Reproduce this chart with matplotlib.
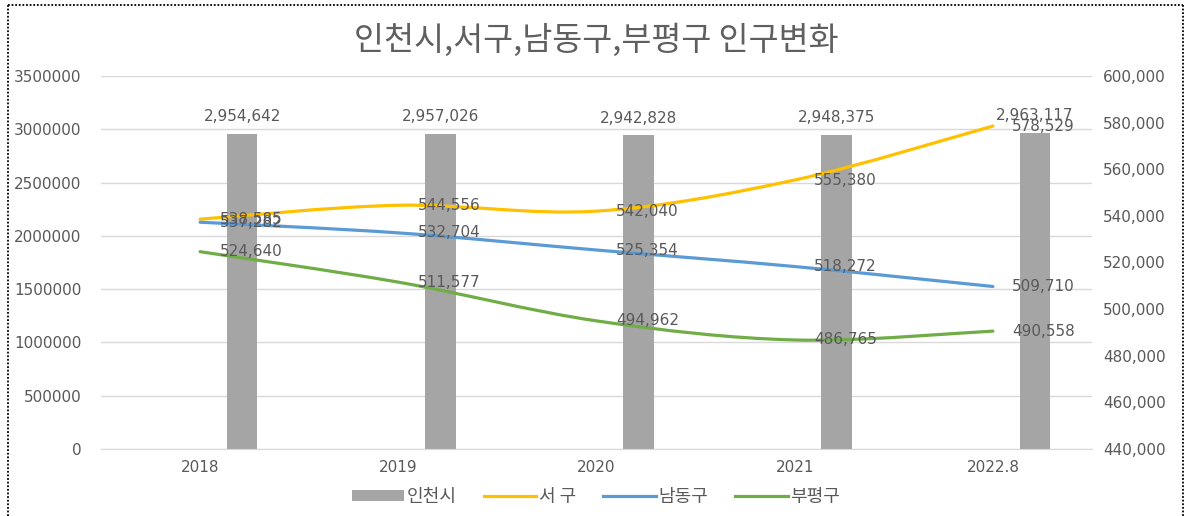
import matplotlib
matplotlib.use("Agg")
import matplotlib.pyplot as plt
import numpy as np
from matplotlib.path import Path
from matplotlib.patches import PathPatch, Patch
from matplotlib.lines import Line2D

plt.rcParams['font.family'] = ['DejaVu Sans', 'Noto Sans CJK KR']

# ---------------- data ----------------
categories = ['2018', '2019', '2020', '2021', '2022.8']
incheon = [2954642, 2957026, 2942828, 2948375, 2963117]
seogu = [538585, 544556, 542040, 555380, 578529]
namdonggu = [537282, 532704, 525354, 518272, 509710]
bupyeonggu = [524640, 511577, 494962, 486765, 490558]
series_names = ['인천시', '서 구', '남동구', '부평구']
title = '인천시,서구,남동구,부평구 인구변화'

left_ticks = list(range(0, 3500001, 500000))
right_ticks = list(range(440000, 600001, 20000))

# ---------------- styles ----------------
C_BAR = '#A5A5A5'
C_Y = '#FFC000'
C_B = '#5B9BD5'
C_G = '#70AD47'
C_TXT = '#595959'
C_GRID = '#D9D9D9'

W, H = 1190, 516
fig = plt.figure(figsize=(W / 100, H / 100), dpi=100)
fig.patch.set_facecolor('white')

l, r, t, b = 101, 1092, 76, 449
ax = fig.add_axes([l / W, 1 - b / H, (r - l) / W, (b - t) / H])
ax2 = ax.twinx()

x = np.arange(len(categories))
bar_off = 0.212
bar_w = 0.155
ax.bar(x + bar_off, incheon, width=bar_w, color=C_BAR, zorder=2)
ax.set_xlim(-0.5, len(categories) - 0.5)
ax.set_ylim(0, 3500000)
ax.set_yticks(left_ticks)
ax.set_yticklabels([str(v) for v in left_ticks])
ax.yaxis.grid(True, color=C_GRID, lw=1.0, zorder=0)
ax.set_axisbelow(True)
ax.set_xticks(x)
ax.set_xticklabels(categories)
ax.tick_params(axis='both', length=0, labelsize=11, colors=C_TXT)
ax.tick_params(axis='y', pad=14)
ax.tick_params(axis='x', pad=8)
for s in ax.spines.values():
    s.set_visible(False)
ax.spines['bottom'].set_visible(True)
ax.spines['bottom'].set_color(C_GRID)

for xi, v in zip(x, incheon):
    ax.annotate(f'{v:,}', (xi + bar_off, v), xytext=(0, 12.5), textcoords='offset points',
                ha='center', va='center', fontsize=11, color=C_TXT, zorder=5)

ax2.set_ylim(440000, 600000)
ax2.set_yticks(right_ticks)
ax2.set_yticklabels([f'{v:,}' for v in right_ticks])
ax2.tick_params(axis='y', length=0, labelsize=11, colors=C_TXT, pad=8)
for s in ax2.spines.values():
    s.set_visible(False)


def smooth_path(xs, ys):
    pts = np.column_stack([xs, ys]).astype(float)
    n = len(pts)
    verts = [tuple(pts[0])]
    codes = [Path.MOVETO]
    for i in range(n - 1):
        p0 = pts[i - 1] if i > 0 else pts[i]
        p1 = pts[i]
        p2 = pts[i + 1]
        p3 = pts[i + 2] if i + 2 < n else pts[i + 1]
        c1 = p1 + (p2 - p0) / 6.0
        c2 = p2 - (p3 - p1) / 6.0
        verts += [tuple(c1), tuple(c2), tuple(p2)]
        codes += [Path.CURVE4] * 3
    return Path(verts, codes)


for vals, col in [(seogu, C_Y), (namdonggu, C_B), (bupyeonggu, C_G)]:
    patch = PathPatch(smooth_path(x, vals), facecolor='none', edgecolor=col,
                      lw=2.3, capstyle='round', joinstyle='round', zorder=3)
    ax2.add_patch(patch)
    for xi, v in zip(x, vals):
        ax2.annotate(f'{v:,}', (xi, v), xytext=(14, 0), textcoords='offset points',
                     ha='left', va='center', fontsize=11, color=C_TXT, zorder=6)

fig.text(596 / W, 1 - 40 / H, title, ha='center', va='center', fontsize=23.5,
         color='#5f5f5f', family=['Noto Sans CJK KR', 'DejaVu Sans'])

handles = [Patch(facecolor=C_BAR, edgecolor='none'),
           Line2D([], [], color=C_Y, lw=2.3),
           Line2D([], [], color=C_B, lw=2.3),
           Line2D([], [], color=C_G, lw=2.3)]
leg = fig.legend(handles, series_names, loc='center', bbox_to_anchor=(596 / W, 1 - 497 / H),
                 ncol=4, frameon=False, handlelength=2.9, handleheight=0.5,
                 handletextpad=0.15, columnspacing=1.5,
                 prop={'family': ['Noto Sans CJK KR', 'DejaVu Sans'], 'size': 13})
for txt in leg.get_texts():
    txt.set_color(C_TXT)

# dotted frame
fx0, fx1 = 8 / W, 1183 / W
fy0, fy1 = 0.0, 1 - 5 / H
for xs_, ys_ in [([fx0, fx0], [fy0, fy1]), ([fx0, fx1], [fy1, fy1]), ([fx1, fx1], [fy1, fy0])]:
    fig.add_artist(Line2D(xs_, ys_, transform=fig.transFigure, color='black',
                          lw=1.3, linestyle=(0, (1, 1))))

fig.savefig('out.png', dpi=100, facecolor='white')
